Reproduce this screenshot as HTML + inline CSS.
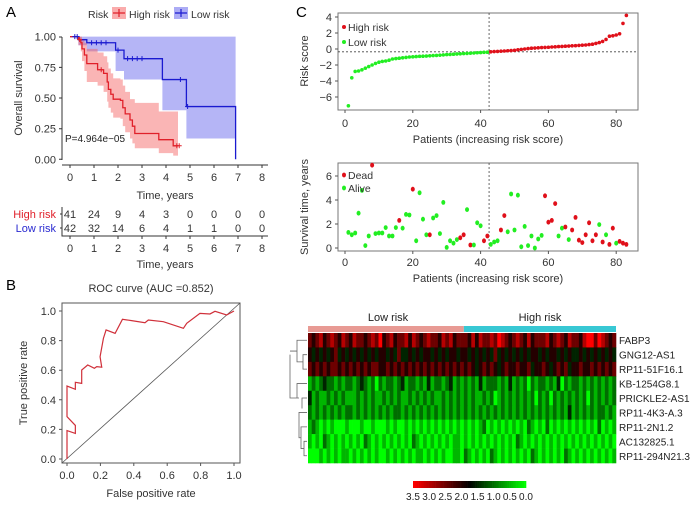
<!DOCTYPE html>
<html><head><meta charset="utf-8"><style>
html,body{margin:0;padding:0;background:#fff}
svg{display:block;font-family:"Liberation Sans",sans-serif}
</style></head><body>
<svg id="fig" width="690" height="505" viewBox="0 0 690 505" xmlns="http://www.w3.org/2000/svg"></svg>
<script>
// ---- KM data ----
const kmHighT=[0,0.35,0.45,0.5,0.6,0.7,1.15,1.4,1.55,1.6,1.7,1.8,2.1,2.2,2.3,2.5,2.6,2.7,3.7,4.3];
const kmHighS=[1,0.976,0.95,0.9,0.85,0.78,0.73,0.70,0.63,0.57,0.53,0.49,0.48,0.42,0.37,0.32,0.27,0.21,0.16,0.11];
const kmHighLo=[1,0.93,0.88,0.8,0.72,0.63,0.6,0.55,0.47,0.42,0.38,0.34,0.33,0.27,0.22,0.17,0.13,0.09,0.05,0.03];
const kmHighHi=[1,1,1,0.97,0.95,0.9,0.87,0.84,0.79,0.74,0.70,0.66,0.65,0.6,0.55,0.49,0.49,0.46,0.39,0.39];
const kmHighEnd=4.5;
const kmLowT=[0,0.35,0.7,1.9,2.25,3.85,4.85,6.9];
const kmLowS=[1,0.975,0.95,0.89,0.82,0.65,0.43,0];
const kmLowLo=[1,0.93,0.88,0.72,0.65,0.40,0.17,0];
const kmLowHi=[1,1,1,1,1,1,1,1];
const riskTimes=[0,1,2,3,4,5,6,7,8];
const atRiskHigh=[41,24,9,4,3,0,0,0,0];
const atRiskLow=[42,32,14,6,4,1,1,0,0];
// ---- ROC ----
const rocFpr=[0,0,0.05,0.05,0,0,0.05,0.05,0.088,0.088,0.124,0.164,0.178,0.208,0.198,0.218,0.234,0.288,0.332,0.387,0.467,0.487,0.577,0.697,0.717,0.796,0.856,0.886,0.956,1];
const rocTpr=[0,0.192,0.173,0.227,0.286,0.493,0.471,0.518,0.511,0.601,0.635,0.613,0.624,0.62,0.691,0.815,0.872,0.849,0.944,0.935,0.921,0.939,0.928,0.883,0.917,0.984,0.980,0.998,0.973,1];
// ---- Risk score ----
const riskScore=[-7.1,-3.6,-2.8,-2.75,-2.6,-2.4,-2.2,-2.0,-1.8,-1.65,-1.55,-1.5,-1.4,-1.25,-1.2,-1.15,-1.1,-1.05,-1.0,-0.98,-0.95,-0.92,-0.9,-0.88,-0.85,-0.82,-0.8,-0.77,-0.74,-0.7,-0.68,-0.65,-0.62,-0.6,-0.57,-0.55,-0.52,-0.5,-0.47,-0.45,-0.42,-0.4,
-0.35,-0.32,-0.3,-0.27,-0.25,-0.22,-0.2,-0.17,-0.1,-0.05,0.0,0.05,0.1,0.12,0.15,0.18,0.2,0.22,0.25,0.27,0.3,0.32,0.35,0.37,0.4,0.42,0.45,0.48,0.5,0.55,0.6,0.7,0.8,0.95,1.2,1.6,1.65,1.75,1.9,3.2,4.2];
const lowCount=42;
const riskCut=-0.35;
// ---- Survival status ----
const survTime=[1.3,1.1,1.25,2.9,4.8,0.2,1.0,6.9,1.2,1.25,1.25,1.7,1.0,1.0,1.7,2.3,1.65,2.8,2.75,4.9,0.6,4.6,2.4,1.1,1.1,2.5,2.7,1.2,3.8,0.05,0.6,0.4,0.7,0.85,1.1,3.2,0.25,0.25,2.1,1.85,0.6,1.0,0.3,0.5,0.6,1.5,2.7,1.35,4.5,1.5,4.4,0.1,1.8,0.2,1.0,0.0,0.75,1.05,4.35,2.15,2.3,3.7,1.0,1.65,1.75,0.7,1.5,2.55,0.65,0.45,1.1,2.1,0.6,1.1,1.95,0.5,1.1,0.3,1.65,0.4,0.55,0.4,0.3];
const survDead="00000001000000010001000010000000011010001100011000000000001111001011111111010110111";
// ---- Heatmap ----
const genes=["FABP3","GNG12-AS1","RP11-51F16.1","KB-1254G8.1","PRICKLE2-AS1","RP11-4K3-A.3","RP11-2N1.2","AC132825.1","RP11-294N21.3"];
const heatRows=[
"5456456546 5465545657 4564556465 4565546564 55 5464655657 6545654645 5564565465 5467757 6545",
"4343434534 3434343434 4343533434 3443434344 34 4343434353 4343434344 3434434343 3434343 4343",
"5454545545 4545454554 4545454545 4545454545 45 4543454543 4544544534 4543454534 4544545 4545",
"1212322121 2212321202 1221231221 2131221231 21 2121312221 2131212021 2212130212 2121212 1212",
"3121121212 1112121211 2121211212 1212112121 21 2121121201 2121212120 2120212121 2120212 1212",
"2121212121 2212121212 1212212121 2121212121 21 2121212121 2121212121 2121212131 2121212 2121",
"1210101000 1000100100 0101001010 1010101010 10 1010120101 0101010210 1020101010 1010102 0101",
"1010210101 0101021010 1010101021 0101010101 10 1010101010 1010210101 0101010101 0101010 1010",
"0001010101 1010101010 0101010101 1010101001 10 2101010210 1010101021 0101010210 1010101 0101"];
const keyLabels=["3.5","3.0","2.5","2.0","1.5","1.0","0.5","0.0"];

const NS="http://www.w3.org/2000/svg";
const svg=document.getElementById('fig');
function el(tag,attrs,parent,txt){const e=document.createElementNS(NS,tag);for(const k in attrs)e.setAttribute(k,attrs[k]);if(txt!==undefined)e.textContent=txt;(parent||svg).appendChild(e);return e;}
function grp(name){const g=el('g',{});return g;}

[["A",6,17],["B",6,290],["C",296,17]].forEach(([t,x,y])=>{const e=el('text',{x:x,y:y,'font-size':15},svg,t);});

// ===== Panel A: KM =====
(function(){
const g=grp('km-plot');
const xs=t=>70+t*24, ys=s=>159.3-s*122.7;
function stepPath(T,S,end){let d=`M${xs(T[0])},${ys(S[0])}`;for(let i=1;i<T.length;i++){d+=`H${xs(T[i])}V${ys(S[i])}`;}d+=`H${xs(end)}`;return d;}
function band(T,L,H,end,fill,name){let up='',lo='';const n=T.length;
 for(let i=0;i<n;i++){const x0=xs(T[i]),x1=xs(i<n-1?T[i+1]:end);up+=(i?'L':'M')+x0+','+ys(H[i])+'L'+x1+','+ys(H[i]);lo=`L${x1},${ys(L[i])}L${x0},${ys(L[i])}`+lo;}
 const p=el('path',{d:up+lo+'Z',fill:fill,stroke:'none'},g);}
band(kmLowT,kmLowLo,kmLowHi,6.9,'rgba(90,90,235,0.45)','low-risk-ci');
band(kmHighT,kmHighLo,kmHighHi,kmHighEnd,'rgba(245,90,90,0.45)','high-risk-ci');
let p=el('path',{d:stepPath(kmLowT,kmLowS,6.9),fill:'none',stroke:'#1a1ad0','stroke-width':1.3},g);
p=el('path',{d:stepPath(kmHighT,kmHighS,kmHighEnd),fill:'none',stroke:'#e0202a','stroke-width':1.3},g);
[[0.2,1],[0.3,1],[0.9,0.95],[1.1,0.95],[1.3,0.95],[1.5,0.95],[2.0,0.89],[2.4,0.82],[2.6,0.82],[2.8,0.82],[3.0,0.82],[4.6,0.65],[4.9,0.43]].forEach(([t,s])=>el('path',{d:`M${xs(t)-2.5},${ys(s)}h5M${xs(t)},${ys(s)-2.5}v5`,stroke:'#1a1ad0','stroke-width':1},g));
[[0.4,0.976],[1.3,0.73],[4.45,0.11],[4.55,0.11]].forEach(([t,s])=>el('path',{d:`M${xs(t)-2.5},${ys(s)}h5M${xs(t)},${ys(s)-2.5}v5`,stroke:'#e0202a','stroke-width':1},g));
el('path',{d:'M62,37V160M62,37h-3M62,67.4h-3M62,98h-3M62,128.7h-3M62,159.3h-3',stroke:'#333',fill:'none'},g);
[1,0.75,0.5,0.25,0].forEach(v=>el('text',{x:56,y:ys(v)+4,'font-size':11,'text-anchor':'end',fill:'#333'},g,v.toFixed(2)));
el('path',{d:'M62,165H268',stroke:'#333'},g);
riskTimes.forEach(t=>{el('path',{d:`M${xs(t)},165v3`,stroke:'#333'},g);el('text',{x:xs(t),y:181,'font-size':11,'text-anchor':'middle',fill:'#333'},g,t);});
el('text',{x:165,y:199,'font-size':11,'text-anchor':'middle',fill:'#333'},g,'Time, years');
el('text',{x:22,y:98,'font-size':11,'text-anchor':'middle',fill:'#333',transform:'rotate(-90 22 98)'},g,'Overall survival');
el('text',{x:65,y:142,'font-size':10,fill:'#222'},g,'P=4.964e−05');
const lg=grp('km-legend');
el('text',{x:88,y:18,'font-size':10.5,fill:'#333'},lg,'Risk');
el('rect',{x:112,y:7,width:14,height:12,fill:'rgba(245,90,90,0.5)'},lg);
el('path',{d:'M113,13h12M119,9v8',stroke:'#e0202a','stroke-width':1.2},lg);
el('text',{x:129,y:18,'font-size':10.5,fill:'#333'},lg,'High risk');
el('rect',{x:174,y:7,width:14,height:12,fill:'rgba(90,90,235,0.5)'},lg);
el('path',{d:'M175,13h12M181,9v8',stroke:'#1a1ad0','stroke-width':1.2},lg);
el('text',{x:191,y:18,'font-size':10.5,fill:'#333'},lg,'Low risk');
const rt=grp('risk-table');
el('text',{x:56,y:218,'font-size':11,'text-anchor':'end',fill:'#e0202a'},rt,'High risk');
el('text',{x:56,y:232,'font-size':11,'text-anchor':'end',fill:'#2a2ad0'},rt,'Low risk');
el('path',{d:'M62,207V236H268M60,214h2M60,228h2',stroke:'#333',fill:'none'},rt);
riskTimes.forEach((t,i)=>{el('text',{x:xs(t),y:218,'font-size':11,'text-anchor':'middle',fill:'#333'},rt,atRiskHigh[i]);el('text',{x:xs(t),y:232,'font-size':11,'text-anchor':'middle',fill:'#333'},rt,atRiskLow[i]);el('path',{d:`M${xs(t)},236v3`,stroke:'#333'},rt);el('text',{x:xs(t),y:252,'font-size':11,'text-anchor':'middle',fill:'#333'},rt,t);});
el('text',{x:165,y:268,'font-size':11,'text-anchor':'middle',fill:'#333'},rt,'Time, years');
})();

// ===== Panel B: ROC =====
(function(){
const g=grp('roc-plot');
const xs=v=>67+v*167, ys=v=>459-v*148;
el('rect',{x:62,y:303,width:178,height:160,fill:'none',stroke:'#555'},g);
el('line',{x1:62,y1:463,x2:240,y2:303,stroke:'#555','stroke-width':0.8},g);
let d='';rocFpr.forEach((f,i)=>d+=(i?'L':'M')+xs(f)+','+ys(rocTpr[i]));
const p=el('path',{d:d,fill:'none',stroke:'#d0303a','stroke-width':1.2},g);
[0,0.2,0.4,0.6,0.8,1].forEach(v=>{el('path',{d:`M${xs(v)},463v3M62,${ys(v)}h-3`,stroke:'#555'},g);
 el('text',{x:xs(v),y:479,'font-size':11,'text-anchor':'middle',fill:'#333'},g,v.toFixed(1));
 el('text',{x:56,y:ys(v)+4,'font-size':11,'text-anchor':'end',fill:'#333'},g,v.toFixed(1));});
el('text',{x:151,y:292,'font-size':11,'text-anchor':'middle',fill:'#333'},g,'ROC curve (AUC =0.852)');
el('text',{x:151,y:497,'font-size':11,'text-anchor':'middle',fill:'#333'},g,'False positive rate');
el('text',{x:27,y:383,'font-size':11,'text-anchor':'middle',fill:'#333',transform:'rotate(-90 27 383)'},g,'True positive rate');
})();

const pxs=i=>345+i*3.39;
(function(){
const g=grp('risk-score-plot');
const ys=v=>49-v*8;
el('rect',{x:338,y:13,width:300,height:97,fill:'none',stroke:'#777'},g);
el('line',{x1:338,x2:638,y1:ys(riskCut),y2:ys(riskCut),stroke:'#444','stroke-dasharray':'2,2','stroke-width':0.8},g);
el('line',{x1:pxs(lowCount+0.5),x2:pxs(lowCount+0.5),y1:13,y2:110,stroke:'#444','stroke-dasharray':'2,2','stroke-width':0.8},g);
riskScore.forEach((v,i)=>{const c=el('circle',{cx:pxs(i+1),cy:ys(v),r:1.8,fill:i<lowCount?'#22ee22':'#e0101a'},g);});
[4,2,0,-2,-4,-6].forEach(v=>{el('path',{d:`M338,${ys(v)}h-3`,stroke:'#555'},g);el('text',{x:332,y:ys(v)+4,'font-size':11,'text-anchor':'end',fill:'#333'},g,v<0?'−'+(-v):v);});
[0,20,40,60,80].forEach(v=>{el('path',{d:`M${pxs(v)},110v3`,stroke:'#555'},g);el('text',{x:pxs(v),y:127,'font-size':11,'text-anchor':'middle',fill:'#333'},g,v);});
el('text',{x:488,y:143,'font-size':11,'text-anchor':'middle',fill:'#333'},g,'Patients (increasing risk score)');
el('text',{x:308,y:61,'font-size':11,'text-anchor':'middle',fill:'#333',transform:'rotate(-90 308 61)'},g,'Risk score');
el('circle',{cx:344,cy:27,r:2,fill:'#e0101a'},g);el('text',{x:348,y:31,'font-size':10.5,fill:'#333'},g,'High risk');
el('circle',{cx:344,cy:42,r:2,fill:'#22ee22'},g);el('text',{x:348,y:46,'font-size':10.5,fill:'#333'},g,'Low risk');
})();

(function(){
const g=grp('survival-status-plot');
const ys=v=>248-v*12;
el('rect',{x:338,y:163,width:300,height:88,fill:'none',stroke:'#777'},g);
el('line',{x1:pxs(lowCount+0.5),x2:pxs(lowCount+0.5),y1:163,y2:251,stroke:'#444','stroke-dasharray':'2,2','stroke-width':0.8},g);
survTime.forEach((v,i)=>{const dead=survDead[i]==='1';const c=el('ellipse',{cx:pxs(i+1),cy:ys(v),rx:2,ry:2.4,fill:dead?'#e0101a':'#22ee22'},g);});
[0,2,4,6].forEach(v=>{el('path',{d:`M338,${ys(v)}h-3`,stroke:'#555'},g);el('text',{x:332,y:ys(v)+4,'font-size':11,'text-anchor':'end',fill:'#333'},g,v);});
[0,20,40,60,80].forEach(v=>{el('path',{d:`M${pxs(v)},251v3`,stroke:'#555'},g);el('text',{x:pxs(v),y:266,'font-size':11,'text-anchor':'middle',fill:'#333'},g,v);});
el('text',{x:488,y:282,'font-size':11,'text-anchor':'middle',fill:'#333'},g,'Patients (increasing risk score)');
el('text',{x:308,y:207,'font-size':11,'text-anchor':'middle',fill:'#333',transform:'rotate(-90 308 207)'},g,'Survival time, years');
el('ellipse',{cx:344,cy:175,rx:2,ry:2.4,fill:'#e0101a'},g);el('text',{x:348,y:179,'font-size':10.5,fill:'#333'},g,'Dead');
el('ellipse',{cx:344,cy:188,rx:2,ry:2.4,fill:'#22ee22'},g);el('text',{x:348,y:192,'font-size':10.5,fill:'#333'},g,'Alive');
})();

(function(){
const g=grp('heatmap');
const N=83,x0=308,x1=616,y0=333,rh=130/9,cw=(x1-x0)/N;
function col(v){const t=v/3.5;if(t<0.5){const k=1-t/0.5;return `rgb(0,${Math.round(255*k)},0)`;}const k=(t-0.5)/0.5;return `rgb(${Math.round(255*k)},0,0)`;}
el('rect',{x:x0,y:326,width:lowCount*cw,height:6,fill:'#e89a94'},g);
el('rect',{x:x0+lowCount*cw,y:326,width:(N-lowCount)*cw,height:6,fill:'#38c8d4'},g);
el('text',{x:388,y:321,'font-size':11,'text-anchor':'middle',fill:'#222'},g,'Low risk');
el('text',{x:540,y:321,'font-size':11,'text-anchor':'middle',fill:'#222'},g,'High risk');
heatRows.forEach((s,r)=>{let str=s.replace(/ /g,'');while(str.length<N)str+=str[str.length-1];
 for(let i=0;i<N;i++){const v=parseInt(str[i])*0.5;const c=el('rect',{x:x0+i*cw,y:y0+r*rh,width:cw+0.3,height:rh+0.3,fill:col(v)},g);}
 const t=el('text',{x:619,y:y0+r*rh+rh/2+4,'font-size':10,fill:'#222'},g,genes[r]);});
const cy=r=>y0+r*rh+rh/2;
el('path',{d:`M307,${cy(1)}h-4V${cy(2)}h4M303,${(cy(1)+cy(2))/2}h-6V${cy(0)}h10M297,${(cy(0)+(cy(1)+cy(2))/2)/2}h-7
M307,${cy(7)}h-3V${cy(8)}h3M304,${(cy(7)+cy(8))/2}h-3V${cy(6)}h6M301,${(cy(6)+(cy(7)+cy(8))/2)/2}h-2V${cy(5)}h8
M307,${cy(4)}h-5V${cy(5)-4}M299,${cy(4)}h-2V${cy(3)}h10M297,${(cy(3)+cy(5))/2}h-7V${(cy(0)+cy(2))/2}`,fill:'none',stroke:'#666','stroke-width':0.8},g);
const k=grp('color-key');
const kx0=413,kx1=526;
for(let i=0;i<60;i++){const v=3.5-3.5*i/59;el('rect',{x:kx0+i*(kx1-kx0)/60,y:481,width:(kx1-kx0)/60+0.3,height:7,fill:col(v)},k);}
keyLabels.forEach((l,i)=>el('text',{x:kx0+i*(kx1-kx0)/7,y:500,'font-size':10,'text-anchor':'middle',fill:'#222'},k,l));
})();
</script>
</body></html>
